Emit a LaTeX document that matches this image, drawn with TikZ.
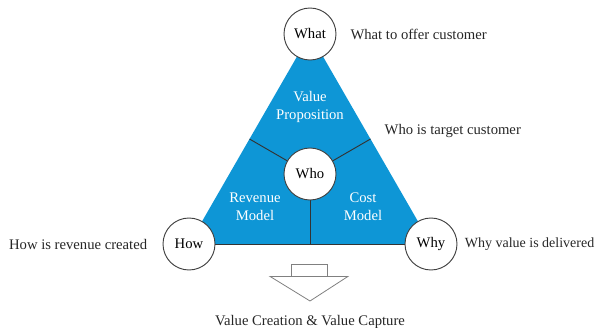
\documentclass[tikz,border=0pt]{standalone}
\usepackage{fontspec}
\setmainfont{Liberation Serif}
\usetikzlibrary{positioning,calc}
\definecolor{modelBlue}{RGB}{14,150,214}

\begin{document}
\begin{tikzpicture}[
  x=0.75pt,y=-0.75pt,
  corner/.style={circle,draw=black!75,fill=white,line width=0.7pt,minimum size=39pt,inner sep=0pt,font=\fontsize{11}{13.5}\selectfont},
  note/.style={font=\fontsize{11}{13.5}\selectfont,text=black!85},
  inside/.style={align=center,text=white,font=\fontsize{11}{13.5}\selectfont},
  split/.style={draw=black!80,line width=0.7pt},
  hollow/.style={draw=black!50,fill=white,line width=0.6pt}
]
\useasboundingbox (0,0) rectangle (600,328);

% corners of the triangle
\coordinate (top) at (310,34);
\coordinate (left) at (189,244);
\coordinate (right) at (431,244);
\coordinate (centre) at (310,174);

\fill[modelBlue] (top) -- (left) -- (right) -- cycle;
\draw[split] (left) -- (right);
\draw[split] (centre) -- ($(top)!0.5!(left)$);
\draw[split] (centre) -- ($(top)!0.5!(right)$);
\draw[split] (centre) -- ($(left)!0.5!(right)$);

\node[inside] (vp) at (310,107) {Value\\Proposition};
\node[inside] (rm) at (255,207) {Revenue\\Model};
\node[inside] (cm) at (363,207) {Cost\\Model};

\node[corner] (what) at (top) {What};
\node[corner] (who) at (centre) {Who};
\node[corner] (how) at (left) {How};
\node[corner] (why) at (right) {Why};

\node[note,right=7pt of what] (whatnote) {What to offer customer};
\node[note,anchor=west] (whonote) at (380,131) {Who is target customer};
\node[note,left=8pt of how] (hownote) {How is revenue created};
\node[note,right=2pt of why,font=\fontsize{10.5}{13}\selectfont] (whynote) {Why value is delivered};

% hollow arrow down to the result
\node[hollow,rectangle,minimum width=27pt,minimum height=9pt,inner sep=0pt] (shaft) at (309,270) {};
\coordinate (tip) at (310,301);
\draw[hollow] ($(shaft.south)+(-39,0)$) -- ($(shaft.south)+(39,0)$) -- (tip) -- cycle;
\node[note,below=7pt of tip] (result) {Value Creation \& Value Capture};
\end{tikzpicture}
\end{document}
